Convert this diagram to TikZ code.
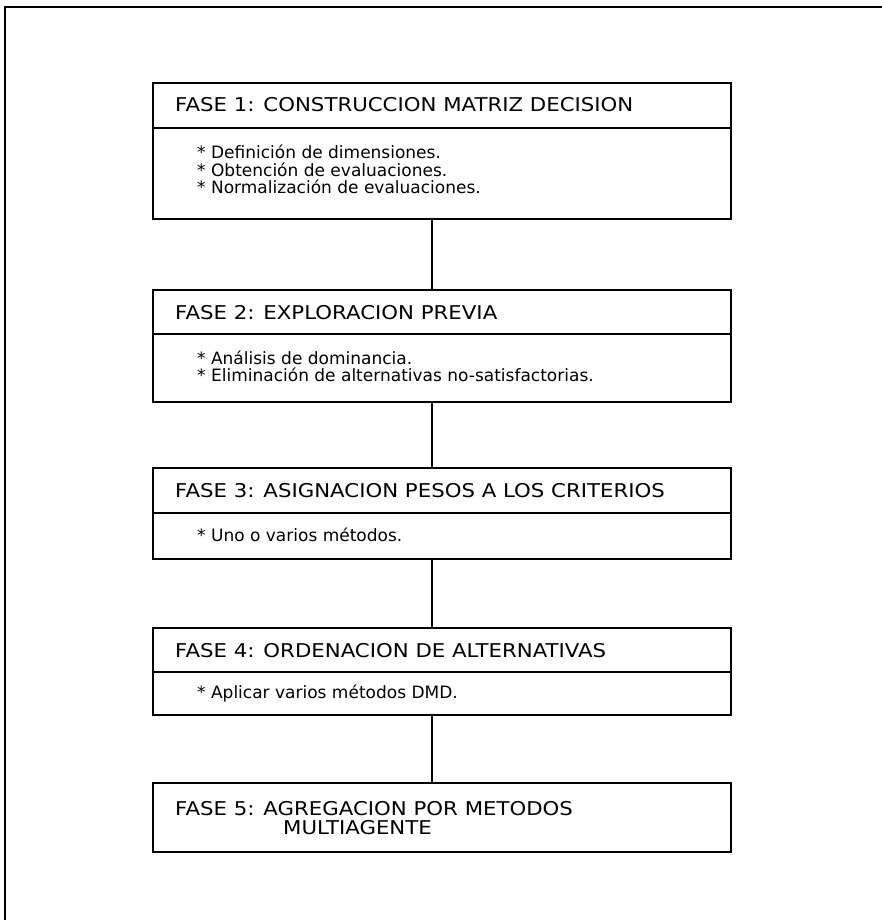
\documentclass[tikz,border=0pt]{standalone}
\usepackage{fontspec}
\setmainfont{DejaVu Sans}
\newfontfamily\headfont[FakeStretch=1.12]{DejaVu Sans}
\newfontfamily\bodyfont[FakeStretch=1.0]{DejaVu Sans}
\usetikzlibrary{calc}
\newcommand{\headsize}{\headfont\fontsize{19}{21}\selectfont}
\newcommand{\itemsize}{\bodyfont\fontsize{17}{17.5}\selectfont}
\begin{document}
\begin{tikzpicture}[x=1pt,y=-1pt,
  frameline/.style={line width=1.4pt},
  phasebox/.style={draw, line width=2pt, rectangle, minimum width=578pt, inner sep=0pt, outer sep=0pt, anchor=north west},
  divider/.style={line width=1.1pt},
  link/.style={line width=1.5pt},
  headtext/.style={anchor=base west, inner sep=0pt, font=\headsize},
  itemtext/.style={anchor=base west, inner sep=0pt, font=\itemsize}]
\useasboundingbox (0,0) rectangle (882,920);
% outer frame (only top and left edges visible)
\coordinate (ftl) at (5,7);
\coordinate (ftr) at (882,7);
\coordinate (fbl) at (5,920);
\draw[frameline] (ftr) -- (ftl) -- (fbl);
% boxes
\node[phasebox, minimum height=136pt] (p1) at (153,83) {};
\node[phasebox, minimum height=112pt] (p2) at (153,290) {};
\node[phasebox, minimum height=91pt]  (p3) at (153,468) {};
\node[phasebox, minimum height=87pt]  (p4) at (153,628) {};
\node[phasebox, minimum height=69pt]  (p5) at (153,783) {};
% dividers
\coordinate (d1) at (153,128);
\coordinate (d2) at (153,334);
\coordinate (d3) at (153,513);
\coordinate (d4) at (153,672);
\draw[divider] (d1) -- (d1 -| p1.east);
\draw[divider] (d2) -- (d2 -| p2.east);
\draw[divider] (d3) -- (d3 -| p3.east);
\draw[divider] (d4) -- (d4 -| p4.east);
% connectors
\coordinate (cx) at (432,0);
\draw[link] (p1.south -| cx) -- (p2.north -| cx);
\draw[link] (p2.south -| cx) -- (p3.north -| cx);
\draw[link] (p3.south -| cx) -- (p4.north -| cx);
\draw[link] (p4.south -| cx) -- (p5.north -| cx);
% texts
\node[headtext] (h1) at (175,112) {FASE 1: CONSTRUCCION MATRIZ DECISION};
\node[itemtext] (i1a) at (197,158.5) {* Definición de dimensiones.};
\node[itemtext] (i1b) at (197,176) {* Obtención de evaluaciones.};
\node[itemtext] (i1c) at (197,193.5) {* Normalización de evaluaciones.};
\node[headtext] (h2) at (175,319) {FASE 2: EXPLORACION PREVIA};
\node[itemtext] (i2a) at (197,364) {* Análisis de dominancia.};
\node[itemtext] (i2b) at (197,381.5) {* Eliminación de alternativas no-satisfactorias.};
\node[headtext] (h3) at (175,497.5) {FASE 3: ASIGNACION PESOS A LOS CRITERIOS};
\node[itemtext] (i3a) at (197,541) {* Uno o varios métodos.};
\node[headtext] (h4) at (175,657) {FASE 4: ORDENACION DE ALTERNATIVAS};
\node[itemtext] (i4a) at (197,698.5) {* Aplicar varios métodos DMD.};
\node[headtext] (h5a) at (175,815) {FASE 5: AGREGACION POR METODOS};
\node[headtext] (h5b) at (283,834) {MULTIAGENTE};
\end{tikzpicture}
\end{document}
